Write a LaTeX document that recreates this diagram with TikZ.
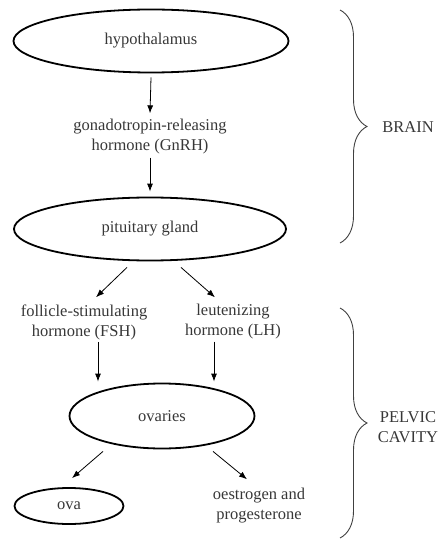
\documentclass[tikz,border=0pt]{standalone}
\usepackage{fontspec}
\setmainfont{Liberation Serif}
\usetikzlibrary{shapes.geometric,arrows.meta,decorations.pathreplacing}
\definecolor{txtgray}{RGB}{55,55,55}

\begin{document}
\begin{tikzpicture}[x=1pt, y=-1pt, font=\rmfamily,
        oval/.style={draw, ellipse, line width=1.8pt, inner sep=0pt, text=txtgray},
        lbl/.style={align=center, inner sep=2pt, text=txtgray},
        arr/.style={-{Latex[length=8pt,width=6pt]}, line width=0.8pt},
        brc/.style={decorate, decoration={brace, amplitude=27pt}, line width=0.9pt, black!75}]
        \useasboundingbox (0,0) rectangle (441,540);
        \fontsize{16.5}{20}\selectfont

        \node[oval, minimum width=275pt, minimum height=63pt] (hyp) at (151,41) {hypothalamus};
        \node[lbl] (gnrh) at (150,137) {gonadotropin-releasing\\hormone (GnRH)};
        \node[oval, minimum width=272pt, minimum height=63pt] (pit) at (150,229) {pituitary gland};

        \node[lbl] (fsh) at (84,322) {follicle-stimulating\\hormone (FSH)};
        \node[lbl] (lh) at (233,322) {leutenizing\\hormone (LH)};
        \node[oval, minimum width=185pt, minimum height=65pt] (ovaries) at (162,416) {ovaries};
        \node[oval, minimum width=109pt, minimum height=36pt] (ova) at (69,506) {ova};
        \node[lbl] (oes) at (259,506) {oestrogen and\\progesterone};

        \draw[arr] ([yshift=-4pt]hyp.south) -- ([yshift=4pt]gnrh.north);
        \draw[arr] ([yshift=-1pt]gnrh.south) -- ([yshift=5pt]pit.north);
        \draw[arr] ([xshift=-23pt,yshift=-6pt]pit.south) -- ([xshift=12pt,yshift=5pt]fsh.north);
        \draw[arr] ([xshift=31pt,yshift=-6pt]pit.south) -- ([xshift=-18pt,yshift=5pt]lh.north);
        \draw[arr] ([xshift=14pt]fsh.south) -- ([xshift=14pt,yshift=1pt]fsh.south |- ovaries.north);
        \draw[arr] ([xshift=-19pt]lh.south) -- ([xshift=-19pt,yshift=1pt]lh.south |- ovaries.north);
        \draw[arr] ([xshift=-59pt,yshift=-2pt]ovaries.south) -- ([xshift=3pt,yshift=9pt]ova.north);
        \draw[arr] ([xshift=51pt,yshift=-2pt]ovaries.south) -- ([xshift=-12pt,yshift=7pt]oes.north);

        %\draw[very thin, gray] (0,0) rectangle (441,540);

        \draw[brc] (340,10) -- (340,243);
        \node[lbl] (brain) at (408,127) {BRAIN};
        \draw[brc] (340,308) -- (340,538);
        \node[lbl] (pelvic) at (408,427) {PELVIC\\CAVITY};
    \end{tikzpicture}
\end{document}
